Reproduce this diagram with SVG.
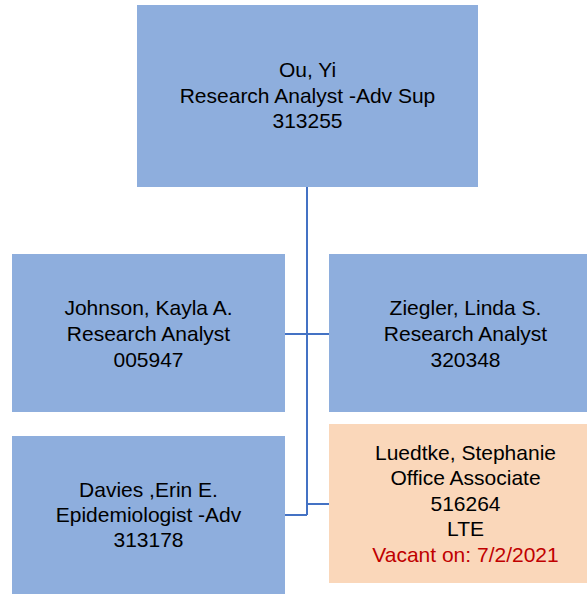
<svg xmlns="http://www.w3.org/2000/svg" width="587" height="596" viewBox="0 0 587 596">
<style>
.box{fill:#8EAEDD;}
.vac{fill:#FAD7BA;}
text{font-family:"Liberation Sans",Arial,sans-serif;font-size:21px;fill:#000;text-anchor:middle;}
.red{fill:#C00000;}
.conn{stroke:#4472C4;stroke-width:2;fill:none;}
</style>
<rect width="587" height="596" fill="#fff"/>
<g id="connectors">
<path class="conn" d="M307,187 V515 M285,334 H329 M307,504 H329 M285,515 H307"/>
</g>
<g id="ou">
<rect class="box" x="137" y="5" width="341" height="182"/>
<text x="307.5" y="77">Ou, Yi</text>
<text x="307.5" y="102.5">Research Analyst -Adv Sup</text>
<text x="307.5" y="128">313255</text>
</g>
<g id="johnson">
<rect class="box" x="12" y="254" width="273" height="158"/>
<text x="148.5" y="315">Johnson, Kayla A.</text>
<text x="148.5" y="341">Research Analyst</text>
<text x="148.5" y="367">005947</text>
</g>
<g id="ziegler">
<rect class="box" x="329" y="254" width="273" height="158"/>
<text x="465.5" y="315">Ziegler, Linda S.</text>
<text x="465.5" y="341">Research Analyst</text>
<text x="465.5" y="367">320348</text>
</g>
<g id="davies">
<rect class="box" x="12" y="436" width="273" height="158"/>
<text x="148.5" y="497">Davies ,Erin E.</text>
<text x="148.5" y="522">Epidemiologist -Adv</text>
<text x="148.5" y="547">313178</text>
</g>
<g id="luedtke">
<rect class="vac" x="329" y="424" width="273" height="159"/>
<text x="465.5" y="460">Luedtke, Stephanie</text>
<text x="465.5" y="485">Office Associate</text>
<text x="465.5" y="511">516264</text>
<text x="465.5" y="536">LTE</text>
<text class="red" x="465.5" y="562">Vacant on: 7/2/2021</text>
</g>
</svg>
